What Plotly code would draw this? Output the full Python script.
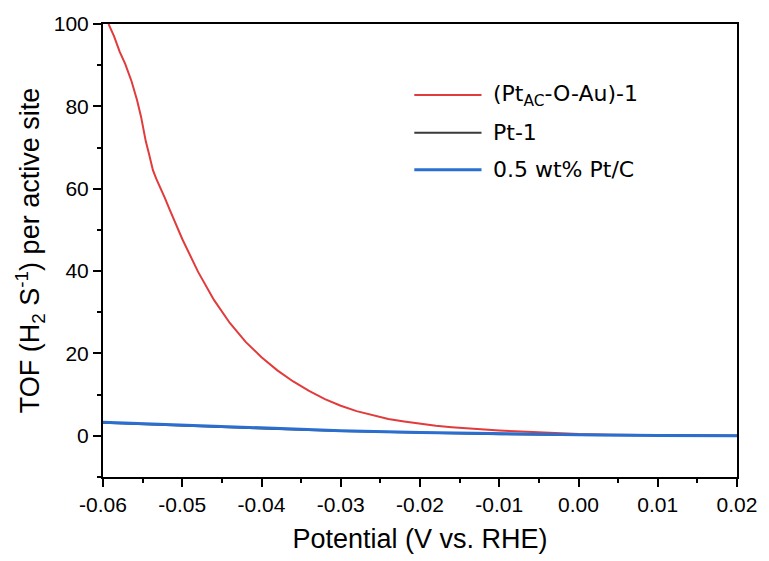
import plotly.graph_objects as go

# Turnover frequency vs. potential
pot_ptac = [-0.0593, -0.0586, -0.0579, -0.0572, -0.0564, -0.0557, -0.0552, -0.0549,
            -0.0546, -0.0542, -0.0537, -0.0533, -0.0528, -0.0522, -0.0516, -0.0508,
            -0.0500, -0.0480, -0.0460, -0.0440, -0.0420, -0.0400, -0.0380, -0.0360,
            -0.0340, -0.0320, -0.0300, -0.0280, -0.0260, -0.0240, -0.0220, -0.0200,
            -0.0180, -0.0160, -0.0140, -0.0120, -0.0100, -0.0080, -0.0060, -0.0040,
            -0.0020, 0.0000, 0.0040, 0.0080, 0.0120, 0.0160, 0.0200]
tof_ptac = [100.0, 97.0, 93.3, 90.3, 86.1, 81.5, 77.5, 74.5,
            71.5, 68.5, 64.5, 62.5, 60.5, 57.8, 55.0, 51.5,
            47.8, 39.8, 33.0, 27.4, 22.8, 19.1, 15.9, 13.2,
            10.9, 8.9, 7.3, 6.0, 5.0, 4.1, 3.5, 2.9,
            2.45, 2.1, 1.8, 1.5, 1.3, 1.1, 0.9, 0.72,
            0.55, 0.42, 0.28, 0.18, 0.11, 0.06, 0.03]

pot_ref = [-0.06, -0.05, -0.04, -0.03, -0.02, -0.01, 0.00, 0.01, 0.02]
tof_pt1 = [3.2, 2.45, 1.8, 1.15, 0.7, 0.4, 0.2, 0.08, 0.02]
tof_ptc = [3.3, 2.6, 1.95, 1.25, 0.8, 0.5, 0.25, 0.1, 0.03]

series_names = ["(Pt<sub>AC</sub>-O-Au)-1", "Pt-1", "0.5 wt% Pt/C"]
series_colors = ["#e23b3b", "#3a3a3a", "#2a6fcf"]
series_widths = [2, 2, 3]

x_ticks = [-0.06, -0.05, -0.04, -0.03, -0.02, -0.01, 0.00, 0.01, 0.02]
x_tick_text = ["-0.06", "-0.05", "-0.04", "-0.03", "-0.02", "-0.01", "0.00", "0.01", "0.02"]
y_ticks = [0, 20, 40, 60, 80, 100]

fig = go.Figure()
fig.add_trace(go.Scatter(x=pot_ptac, y=tof_ptac, mode="lines", name=series_names[0],
                         line=dict(color=series_colors[0], width=series_widths[0]),
                         showlegend=False))
fig.add_trace(go.Scatter(x=pot_ref, y=tof_pt1, mode="lines", name=series_names[1],
                         line=dict(color=series_colors[1], width=series_widths[1]),
                         showlegend=False))
fig.add_trace(go.Scatter(x=pot_ref, y=tof_ptc, mode="lines", name=series_names[2],
                         line=dict(color=series_colors[2], width=series_widths[2]),
                         showlegend=False))

# Legend drawn in paper coordinates with long line samples
leg_y = [0.843, 0.760, 0.678]
for name, color, width, yy in zip(series_names, series_colors, series_widths, leg_y):
    fig.add_shape(type="line", xref="paper", yref="paper",
                  x0=0.491, x1=0.597, y0=yy, y1=yy,
                  line=dict(color=color, width=width))
    fig.add_annotation(xref="paper", yref="paper", x=0.612, y=yy,
                       xanchor="left", yanchor="middle", showarrow=False,
                       text=name, font=dict(family="DejaVu Sans", size=22, color="black"))

axis_font = dict(family="Liberation Sans, Arial", size=21, color="black")
title_font = dict(family="Liberation Sans, Arial", size=27, color="black")

fig.update_xaxes(range=[-0.06, 0.02], tickvals=x_ticks, ticktext=x_tick_text,
                 ticks="outside", ticklen=8, tickwidth=2, tickcolor="black",
                 showline=True, linewidth=2, linecolor="black", mirror=True,
                 showgrid=False, zeroline=False, tickfont=axis_font,
                 minor=dict(dtick=0.005, ticks="outside", ticklen=4, tickwidth=2,
                            tickcolor="black", showgrid=False),
                 title=dict(text="Potential (V vs. RHE)", font=title_font, standoff=14))
fig.update_yaxes(range=[-10, 100], tickvals=y_ticks,
                 ticks="outside", ticklen=8, tickwidth=2, tickcolor="black",
                 showline=True, linewidth=2, linecolor="black", mirror=True,
                 showgrid=False, zeroline=False, tickfont=axis_font,
                 minor=dict(dtick=10, tick0=0, ticks="outside", ticklen=4, tickwidth=2,
                            tickcolor="black", showgrid=False),
                 title=dict(text="TOF (H<sub>2</sub> S<sup>-1</sup>) per active site",
                            font=title_font, standoff=6))

fig.update_layout(width=769, height=561, plot_bgcolor="white", paper_bgcolor="white",
                  margin=dict(l=103, r=29, t=22, b=79), showlegend=False)

fig.write_html("out.html")
